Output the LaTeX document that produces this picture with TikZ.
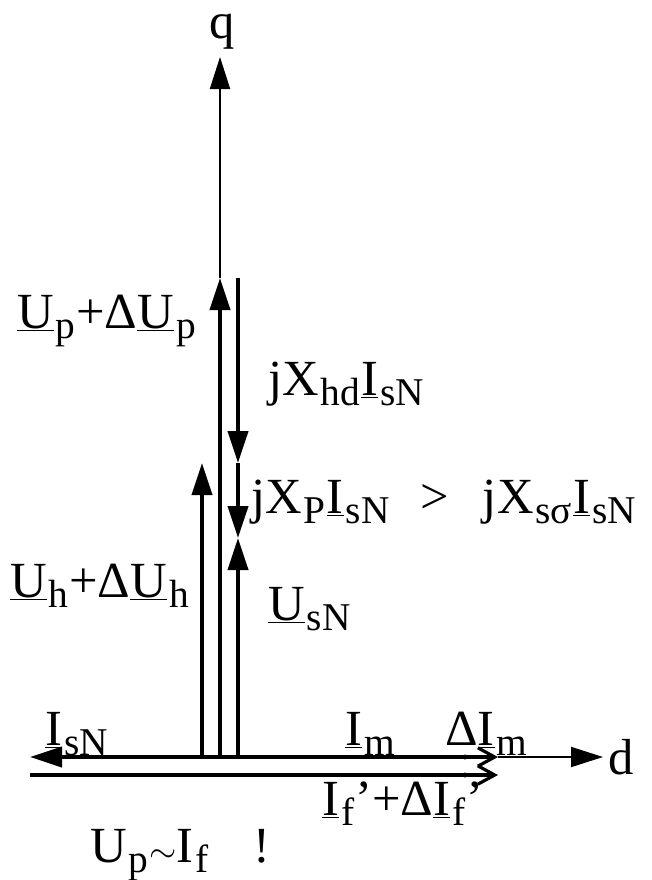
\documentclass[tikz,border=0pt]{standalone}
\usepackage{fontspec}
\setmainfont{Liberation Serif}
\usepackage{graphicx}
\usepackage{tikz}
\usetikzlibrary{arrows.meta,positioning,calc}
\newcommand{\sbx}[1]{\kern0.04em\raisebox{-0.2em}{\fontsize{28}{30}\selectfont #1}\kern0.02em}
\newcommand{\ul}[1]{\underline{#1}}
\tikzset{
  phasor/.style={line width=1mm, -{Triangle[length=8mm,width=5mm]}},
  axis/.style={line width=0.5mm, -{Triangle[length=8mm,width=5mm]}},
  delta/.style={line width=0.8mm, -{Straight Barb[length=4.2mm,width=4.6mm]}},
  lbl/.style={inner sep=0pt, font=\fontsize{36}{40}\selectfont},
}

\begin{document}
\begin{tikzpicture}[x=0.25mm, y=-0.25mm]
  \useasboundingbox (0,0) rectangle (651,880);
  % feet of the three voltage phasors
  \coordinate (o1) at (202,757);
  \coordinate (o2) at (220,757);
  \coordinate (o3) at (238,757);
  \coordinate (qtip) at (220,57);
  \coordinate (uptip) at (220,278);
  \coordinate (uhtip) at (202,463);
  \coordinate (hdtop) at (238,278);
  \coordinate (hdtip) at (238,463);
  \coordinate (stip) at (238,538);
  \coordinate (isntip) at (30,757);
  \coordinate (imtip) at (465,757);
  \coordinate (dimtip) at (498,757);
  \coordinate (dtip) at (603,757);
  \coordinate (ifbeg) at (30,775);
  \coordinate (iftip) at (465,775);
  \coordinate (diftip) at (498,775);

  % axes
  \draw[axis] (uptip) -- (qtip);
  \draw[axis] (dimtip) -- (dtip);

  % voltages
  \draw[phasor] (o2) -- (uptip);
  \draw[phasor] (o1) -- (uhtip);
  \draw[phasor] (hdtop) -- (hdtip);
  \draw[phasor] (hdtip) -- (stip);
  \draw[phasor] (o3) -- (stip);

  % currents
  \draw[phasor] (o2) -- (isntip);
  \draw[line width=1mm] (o2) -- (imtip);
  \draw[line width=1mm] (ifbeg) -- (iftip);
  \draw[delta] (imtip) -- (dimtip);
  \draw[delta] (iftip) -- (diftip);
  \fill (imtip) circle (2.5);
  \fill (iftip) circle (2.5);

  \node[lbl] (q) at (222,32) {q};
  \node[lbl, anchor=base west] (d) at (608,774) {d};
  \node[lbl, anchor=base east] (uplbl) at (197,328) {\ul{U}\sbx{p}+Δ\ul{U}\sbx{p}};
  \node[lbl, anchor=base west] (hdlbl) at (268,395) {jX\sbx{hd}\ul{I}\sbx{sN}};
  \node[lbl, anchor=base west] (plbl) at (251,513) {jX\sbx{P}\ul{I}\sbx{sN}\hspace{7.5mm}>\hspace{8.5mm}jX\sbx{sσ}\ul{I}\sbx{sN}};
  \node[lbl, anchor=base east] (uhlbl) at (190,597) {\ul{U}\sbx{h}+Δ\ul{U}\sbx{h}};
  \node[lbl, anchor=base west] (uslbl) at (268,620) {\ul{U}\sbx{sN}};
  \node[lbl, anchor=base west] (islbl) at (45,745) {\ul{I}\sbx{sN}};
  \node[lbl, anchor=base west] (imlbl) at (345,745) {\ul{I}\sbx{m}};
  \node[lbl, anchor=base west] (dimlbl) at (445,745) {Δ\ul{I}\sbx{m}};
  \node[lbl, anchor=base west] (iflbl) at (322,815) {\ul{I}\sbx{f}’+Δ\ul{I}\sbx{f}’};
  \node[lbl, anchor=base west] (uplf) at (90,862) {U\sbx{p}$\sim$I\sbx{f}\hspace{11mm}!};
\end{tikzpicture}
\end{document}
